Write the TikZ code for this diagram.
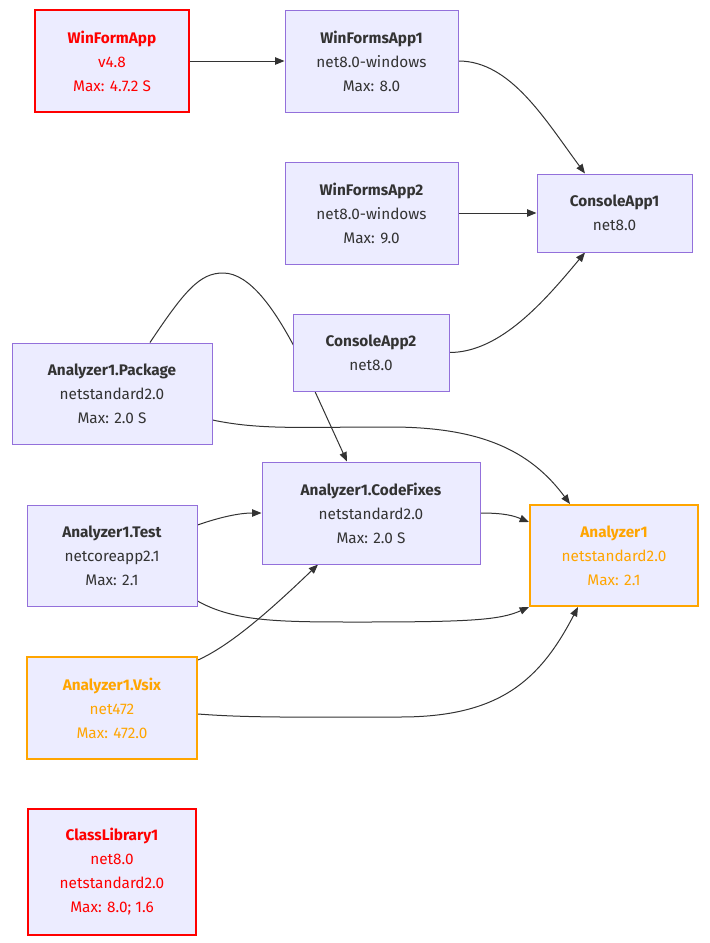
\documentclass[tikz,border=0pt]{standalone}
\usepackage{fontspec}
\setmainfont{Fira Sans}
\usepackage{xcolor}
\usetikzlibrary{arrows.meta, positioning, calc, backgrounds}
\definecolor{NodeFill}{HTML}{ECECFF}
\definecolor{NodeLine}{HTML}{9370DB}
\definecolor{TextGray}{HTML}{333333}
\definecolor{WarnOrange}{HTML}{FFA500}
\definecolor{ErrRed}{HTML}{FF0000}
\tikzstyle{proj} = [draw=NodeLine, fill=NodeFill, text=TextGray, line width=0.75pt, align=center, inner sep=0pt, font=\fontsize{11.5}{18}\selectfont]
\tikzstyle{warnproj} = [proj, draw=WarnOrange, text=WarnOrange, line width=1.5pt]
\tikzstyle{errproj} = [proj, draw=ErrRed, text=ErrRed, line width=1.5pt]
\tikzstyle{dep} = [TextGray, line width=0.75pt, -{Triangle[length=7pt,width=5.5pt]}]

\begin{document}
\begin{tikzpicture}[x=0.75pt, y=-0.75pt]
    \useasboundingbox (0,0) rectangle (710,943);

    % projects
    \node[errproj, minimum width=115.5pt, minimum height=76.5pt] (WinFormApp) at (112,61) {\textbf{WinFormApp}\\v4.8\\Max: 4.7.2 S};
    \node[proj, minimum width=129.75pt, minimum height=76.5pt] (WinFormsApp1) at (371.5,61) {\textbf{WinFormsApp1}\\net8.0-windows\\Max: 8.0};
    \node[proj, minimum width=129.75pt, minimum height=76.5pt] (WinFormsApp2) at (371.5,213) {\textbf{WinFormsApp2}\\net8.0-windows\\Max: 9.0};
    \node[proj, minimum width=116.25pt, minimum height=58.5pt] (ConsoleApp1) at (614.5,213) {\textbf{ConsoleApp1}\\net8.0};
    \node[proj, minimum width=117pt, minimum height=57.75pt] (ConsoleApp2) at (371,352.5) {\textbf{ConsoleApp2}\\net8.0};
    \node[proj, minimum width=150pt, minimum height=75.75pt] (Package) at (112,393.5) {\textbf{Analyzer1.Package}\\netstandard2.0\\Max: 2.0 S};
    \node[proj, minimum width=163.5pt, minimum height=76.5pt] (CodeFixes) at (371,513) {\textbf{Analyzer1.CodeFixes}\\netstandard2.0\\Max: 2.0 S};
    \node[warnproj, minimum width=126pt, minimum height=75.75pt] (Analyzer) at (614,555.5) {\textbf{Analyzer1}\\netstandard2.0\\Max: 2.1};
    \node[proj, minimum width=127.5pt, minimum height=75.75pt] (Test) at (112,555.5) {\textbf{Analyzer1.Test}\\netcoreapp2.1\\Max: 2.1};
    \node[warnproj, minimum width=127.5pt, minimum height=76.5pt] (Vsix) at (112,708) {\textbf{Analyzer1.Vsix}\\net472\\Max: 472.0};
    \node[errproj, minimum width=126pt, minimum height=94.5pt] (ClassLib) at (112,872) {\textbf{ClassLibrary1}\\net8.0\\netstandard2.0\\Max: 8.0; 1.6};

    % references
    \begin{scope}[on background layer]
        \draw[dep] (WinFormApp.east) -- (WinFormsApp1.west);
        \draw[dep] (WinFormsApp1.east) .. controls +(52,0) and +(-40,-54) .. ($(ConsoleApp1.north)+(-29.5,0)$);
        \draw[dep] (WinFormsApp2.east) -- (ConsoleApp1.west);
        \draw[dep] (ConsoleApp2.east) .. controls +(51,0) and +(-40,48) .. ($(ConsoleApp1.south)+(-29.5,0)$);
        \draw[dep] ($(Package.north)+(38,0)$) .. controls (185,290) and (200,273) .. (223,273)
            .. controls (250,273) and (275,310) .. (296,350) -- ($(CodeFixes.north)+(-24,0)$);
        \draw[dep] ($(Package.east)+(0,26.5)$) .. controls (260,430) and (300,427) .. (390,427)
            .. controls (480,427) and (530,450) .. ($(Analyzer.north)+(-44,0)$);
        \draw[dep] ($(Test.east)+(0,-30.5)$) .. controls +(23,-8) and +(-22,0) .. (CodeFixes.west);
        \draw[dep] (CodeFixes.east) .. controls +(25,0) and +(-15,-6) .. ($(Analyzer.west)+(0,-33.5)$);
        \draw[dep] ($(Test.east)+(0,45.5)$) .. controls (235,622) and (280,622) .. (360,622)
            .. controls (470,622) and (500,620) .. (Analyzer.south west);
        \draw[dep] ($(Vsix.east)+(0,-48)$) .. controls +(33,-15) and +(-48,46) .. ($(CodeFixes.south)+(-53,0)$);
        \draw[dep] ($(Vsix.east)+(0,6)$) .. controls (250,718) and (300,717) .. (400,717)
            .. controls (500,717) and (540,680) .. ($(Analyzer.south)+(-36,0)$);
    \end{scope}
\end{tikzpicture}
\end{document}
